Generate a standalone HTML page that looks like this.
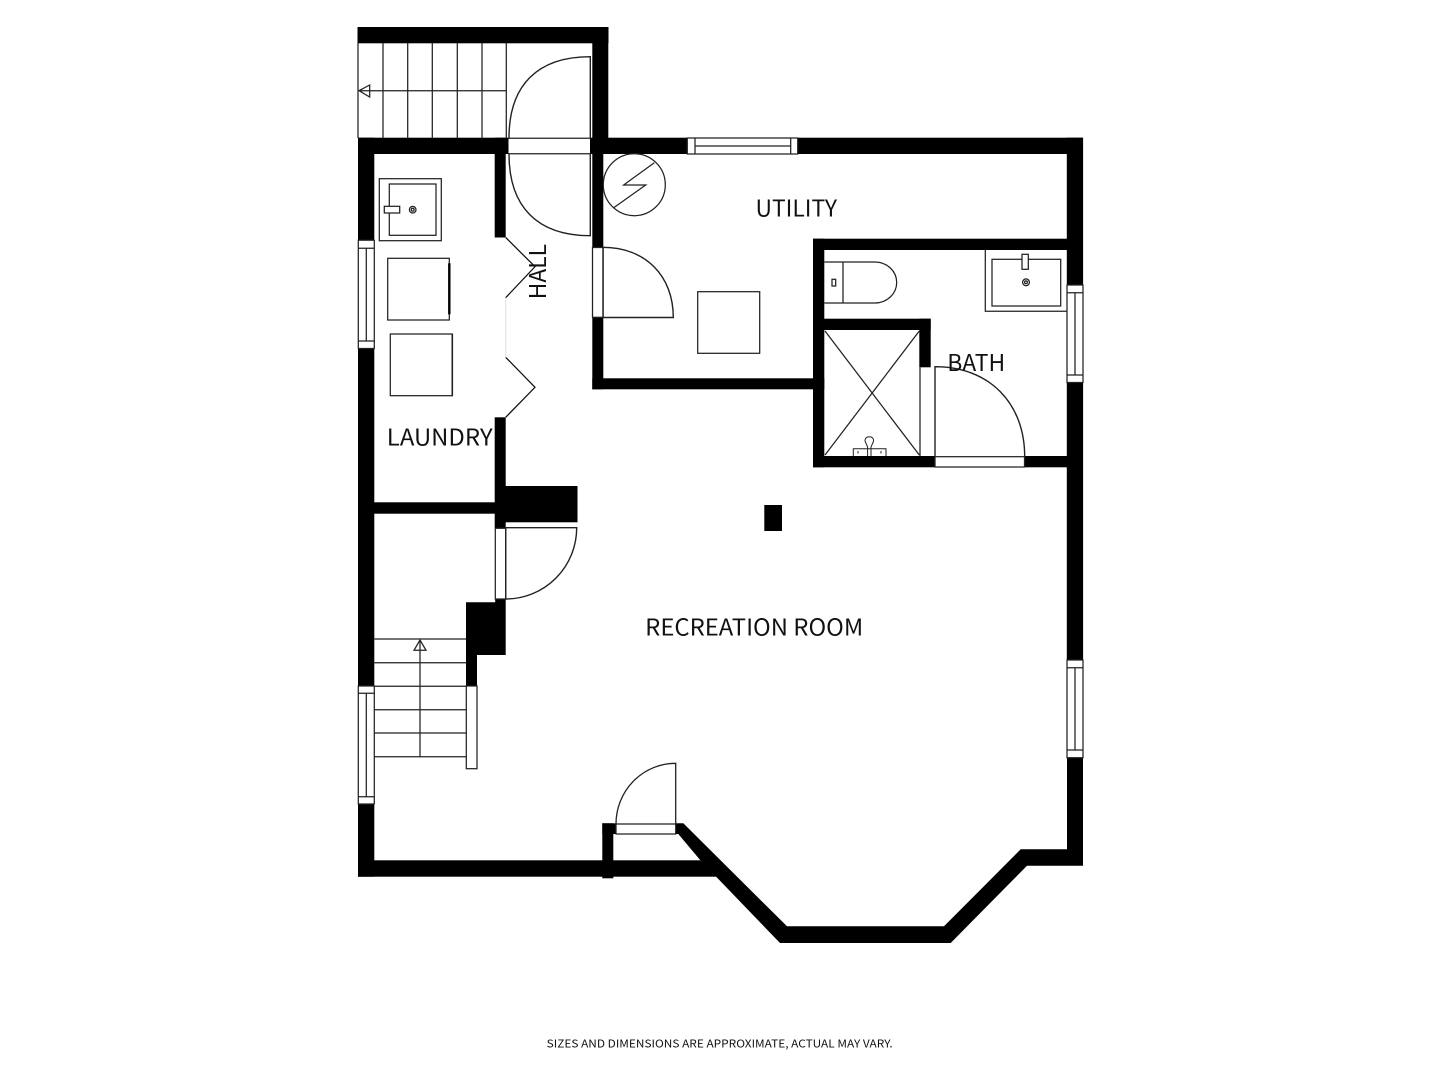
<!DOCTYPE html>
<html><head><meta charset="utf-8"><style>html,body{margin:0;padding:0;background:#fff}svg{display:block}text{font-family:"Noto Sans CJK JP","Liberation Sans",sans-serif;fill:#111}</style></head><body>
<svg width="1440" height="1080" viewBox="0 0 1440 1080" xmlns="http://www.w3.org/2000/svg">
<rect width="1440" height="1080" fill="#fff"/>
<g fill="#000">
<!-- top stair walls -->
<rect x="357.5" y="27" width="251" height="16.3"/>
<rect x="592.3" y="27" width="16" height="127"/>
<rect x="358" y="137.7" width="151" height="16.3"/>
<rect x="590" y="137.7" width="493" height="16.3"/>
<!-- left wall -->
<rect x="358" y="137.7" width="16.3" height="102.5"/>
<rect x="358" y="348.5" width="16.3" height="337.5"/>
<rect x="358" y="804" width="16.3" height="72.7"/>
<!-- bottom wall -->
<rect x="358" y="860.3" width="358" height="16.4"/>
<rect x="602.3" y="823.3" width="11" height="55"/>
<rect x="602.3" y="823.3" width="13.7" height="10.7"/>
<!-- bay wall -->
<polygon points="675.7,823.3 683.3,823.3 787,926.3 944,926.3 1020.7,849.3 1067,849.3 1067,757.5 1083,757.5 1083,865.7 1027,865.7 950.7,943 780,943 701,861 678.3,834 675.7,834"/>
<!-- right wall -->
<rect x="1066.8" y="137.7" width="16.3" height="147.3"/>
<rect x="1066.8" y="382.5" width="16.3" height="277.5"/>
<!-- hall partition -->
<rect x="494.7" y="137.7" width="11" height="99.8"/>
<rect x="494.7" y="417.3" width="11" height="111"/>
<rect x="374" y="502.3" width="121" height="11.4"/>
<rect x="505" y="486" width="72.5" height="36.3"/>
<polygon points="495.2,599 505.7,599 505.7,655 477,655 477,686 466,686 466,602.3 495.2,602.3"/>
<!-- utility -->
<rect x="592.3" y="137.7" width="11" height="109.8"/>
<rect x="592.3" y="317.3" width="11" height="72"/>
<rect x="592.3" y="378.3" width="232" height="11"/>
<!-- bath -->
<rect x="813" y="238.7" width="254" height="11.3"/>
<rect x="813" y="238.7" width="11.3" height="228.6"/>
<rect x="813" y="456" width="122" height="11.3"/>
<rect x="1024.5" y="456" width="43" height="11.3"/>
<rect x="824" y="318.7" width="106.7" height="11.3"/>
<rect x="919.3" y="318.7" width="11.4" height="48.6"/>
<!-- column -->
<rect x="764.3" y="505" width="17.7" height="26"/>
</g>
<g fill="none" stroke="#222" stroke-width="1.25">
<!-- top stairs -->
<path d="M358 43V138M383 43V138M407.7 43V138M432.3 43V138M457.3 43V138M482 43V138M506.3 43V138"/>
<path d="M359 90.7H506.3M369.7 85L359 90.7L369.7 97Z"/>
<!-- top double door -->
<rect x="508.5" y="138.5" width="81.5" height="15" fill="#fff" stroke="none"/>
<path d="M508.5 138.3H590.3M508.5 153.8H590.3"/>
<path d="M590.3 138V56.7C537.5 56.7 509 85.2 509 138" stroke-width="1.4"/>
<path d="M590.3 154V235.7C537.5 235.7 509 207 509 154" stroke-width="1.4"/>
<!-- laundry sink -->
<rect x="379.3" y="178.7" width="62" height="62"/>
<rect x="389.3" y="184" width="46.7" height="51.3"/>
<rect x="384.3" y="206.3" width="15.4" height="6.7" fill="#fff"/>
<circle cx="412.7" cy="209.7" r="3.3"/><circle cx="412.7" cy="209.7" r="1.4"/>
<!-- washer dryer -->
<rect x="387.7" y="258.3" width="61.6" height="61.7"/>
<path d="M449.3 263.3V314.3" stroke="#000" stroke-width="2.4"/>
<rect x="390.3" y="334" width="62" height="61.7"/>
<path d="M452.3 334V395.7" stroke-width="1.6"/>
<!-- windows -->
<rect x="358.3" y="240.2" width="16" height="108.3" fill="#fff"/>
<path d="M358.3 248.3H374.3M358.3 341H374.3M366.3 248.3V341"/>
<rect x="358.3" y="686" width="16" height="118" fill="#fff"/>
<path d="M358.3 693.3H374.3M358.3 796.7H374.3M366.3 693.3V796.7"/>
<rect x="1067" y="285" width="16" height="97.5" fill="#fff"/>
<path d="M1067 292.7H1083M1067 375H1083M1075 292.7V375"/>
<rect x="1067" y="660" width="16" height="97.7" fill="#fff"/>
<path d="M1067 667.7H1083M1067 750H1083M1075 667.7V750"/>
<rect x="687.3" y="138" width="110.4" height="16" fill="#fff"/>
<path d="M695 138V154M790.7 138V154M695 146H790.7"/>
<!-- folding doors -->
<path d="M505.7 237.5L535 266.7L505.7 297.7M505.7 357.3L535 387.3L505.7 417.3" stroke="#111"/>
<path d="M505.7 297.7V357.3" stroke="#e4e4e4"/>
<!-- utility -->
<circle cx="634.3" cy="184.7" r="31"/>
<path d="M654.3 162.7L623.7 185H645.7L613.7 207.7"/>
<rect x="592.5" y="247.5" width="10.6" height="69.8" fill="#fff"/>
<path d="M603 247.3V317.5H673.3C673.3 275.5 645 247.3 603 247.3" stroke-width="1.4"/>
<rect x="697.7" y="291.7" width="62" height="61.6"/>
<!-- toilet -->
<path d="M824.3 262H875A21.7 20.5 0 0 1 875 303H824.3M843 262V303"/>
<rect x="832" y="279.3" width="3.7" height="6.7"/>
<!-- bath sink -->
<path d="M985.3 250V311.3H1067"/>
<rect x="992" y="259.3" width="68.7" height="46.7"/>
<rect x="1022" y="254.3" width="6.3" height="15" fill="#fff"/>
<circle cx="1026" cy="282.3" r="3.4"/><circle cx="1026" cy="282.3" r="1.4"/>
<!-- shower -->
<path d="M825 331L919.3 455M919.3 331L825 455M920 367.3V456"/>
<path d="M853.3 456V448.7H886V456M858 451V453.5M881 451V453.5M867.6 456V447L865 441Q865 436.7 869.3 436.7Q873.6 436.7 873.6 441L871 447V456" stroke-width="1"/>
<!-- bath door -->
<rect x="935" y="456.7" width="89.5" height="10.3" fill="#fff"/>
<path d="M935 456.7V366.7C989 366.7 1024.7 402.7 1024.7 456.7" stroke-width="1.4"/>
<!-- lower door -->
<rect x="495.3" y="528.3" width="10.4" height="70.7" fill="#fff"/>
<path d="M505.7 599V527.7H576.7A71 71.3 0 0 1 505.7 599" stroke-width="1.4"/>
<!-- lower stairs -->
<path d="M374.3 639H466M374.3 662.7H466M374.3 686.3H466M374.3 709.7H466M374.3 733H466M374.3 756.7H466M420 640V756.7"/>
<path d="M414 650.3L420 640L426 650.3Z"/>
<rect x="466.3" y="686" width="10.7" height="82.7" fill="#fff"/>
<!-- entry door -->
<rect x="616" y="824" width="59.7" height="10" fill="#fff"/>
<path d="M675.7 824V763.3A59.7 60.7 0 0 0 616 824" stroke-width="1.3"/>
</g>
<text x="755.5" y="216.5" font-size="23" textLength="81.5" lengthAdjust="spacingAndGlyphs">UTILITY</text>
<text x="386.8" y="445.5" font-size="23" textLength="105.9" lengthAdjust="spacingAndGlyphs">LAUNDRY</text>
<text x="947.2" y="370.8" font-size="23" textLength="58" lengthAdjust="spacingAndGlyphs">BATH</text>
<text transform="translate(546.2 299.2) rotate(-90)" font-size="23" textLength="55.2" lengthAdjust="spacingAndGlyphs">HALL</text>
<text x="645.2" y="635.5" font-size="23" textLength="218" lengthAdjust="spacingAndGlyphs">RECREATION ROOM</text>
<text x="546.7" y="1047.4" font-size="11" textLength="346" lengthAdjust="spacingAndGlyphs">SIZES AND DIMENSIONS ARE APPROXIMATE, ACTUAL MAY VARY.</text>
</svg>
</body></html>
